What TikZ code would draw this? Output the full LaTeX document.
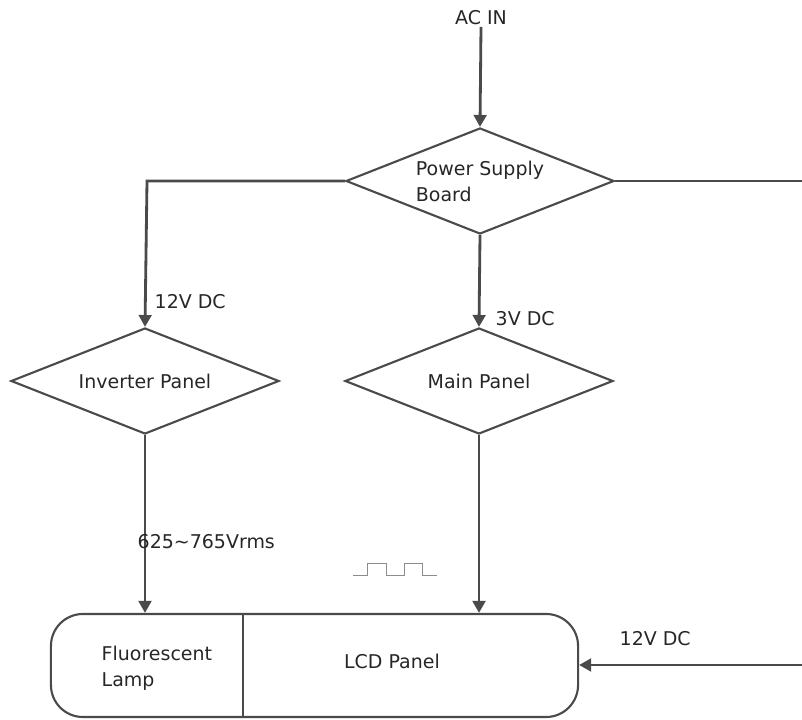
\documentclass[tikz,border=0pt]{standalone}
\usepackage{fontspec}
\setmainfont{DejaVu Sans}
\usepackage{tikz}
\usetikzlibrary{arrows.meta,positioning,shapes.geometric}
\definecolor{wire}{HTML}{4A4A4A}
\tikzset{
  flowarrow/.style={-{Triangle[length=8.5pt, width=9pt]}, line width=2pt,
    draw=wire},
  flowline/.style={line width=2pt, draw=wire},
  flowlabel/.style={font=\fontsize{13.5}{18.5}\selectfont, text=black!85,
    inner sep=1pt},
  flowdiamond/.style={diamond, draw=wire, line width=1.5pt, aspect=2.5,
    minimum width=6.7cm, minimum height=2.65cm, inner sep=1pt,
    font=\fontsize{13.5}{18.5}\selectfont, text=black!85},
  flowpanel/.style={draw=wire, line width=1.5pt, rounded corners=0.8cm,
    minimum width=13.175cm, minimum height=2.575cm}
}

\begin{document}
\begin{tikzpicture}[x=0.025cm, y=-0.025cm]
  \useasboundingbox (0,0) rectangle (802,720);

  % power path from the mains
  \node[flowlabel] (acin) at (481,18) {AC IN};
  \node[flowdiamond, align=left] (psb) at (480,181)
    {Power Supply\\Board};
  \node[flowdiamond] (inv) at (145,381) {Inverter Panel};
  \node[flowdiamond] (main) at (479,381) {Main Panel};

  % display unit
  \node[flowpanel] (lcd) at (314.5,665.5) {};
  \coordinate (split) at (243,665);
  \draw[line width=1.5pt, draw=wire] (split |- lcd.north) -- (split |- lcd.south);
  \node[flowlabel, align=left, anchor=west] (lamp) at (100,668)
    {Fluorescent\\Lamp};
  \node[flowlabel] (panel) at (392,661) {LCD Panel};

  % off-page return of the 12V rail
  \coordinate (outtop) at (802,181);
  \coordinate (outbot) at (802,665);
  \coordinate (invtap) at (147,181);

  \draw[flowarrow] (acin.south) -- (psb.north);
  \draw[flowarrow] (psb.west) -- (invtap) -- (inv.north);
  \draw[flowarrow] (psb.south) -- (main.north);
  \draw[flowline] (psb.east) -- (outtop);
  \draw[flowarrow] (inv.south) -- (inv.south |- lcd.north);
  \draw[flowarrow] (main.south) -- (main.south |- lcd.north);
  \draw[flowarrow] (outbot) -- (outbot -| lcd.east);

  \node[flowlabel, anchor=west] (v12a) at (153,302) {12V DC};
  \node[flowlabel, anchor=west] (v3) at (494,319) {3V DC};
  \node[flowlabel, anchor=west] (vrms) at (136,542) {625\textasciitilde765Vrms};
  \node[flowlabel, anchor=west] (v12b) at (618,639) {12V DC};

  % square wave sketch
  \draw[black!45, line width=0.6pt] (353,575) -- (367,575) -- (367,563)
    -- (386,563) -- (386,575) -- (404,575) -- (404,563) -- (422,563)
    -- (422,575) -- (437,575);
\end{tikzpicture}
\end{document}
